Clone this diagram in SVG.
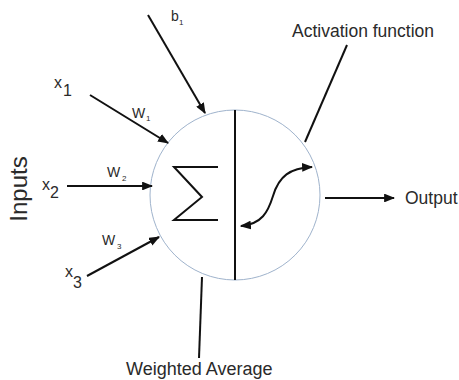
<svg xmlns="http://www.w3.org/2000/svg" width="459" height="380" viewBox="0 0 459 380">
<style>
.t{font-family:"Liberation Sans",Arial,sans-serif;fill:#2a2a2a}
.ln{stroke:#111;stroke-width:2;fill:none}
.ar{marker-end:url(#ah)}
</style>
<defs>
<marker id="ah" viewBox="0 0 10 8" refX="9" refY="4" markerWidth="5.5" markerHeight="4.4" orient="auto" markerUnits="strokeWidth">
<path d="M0,0 L10,4 L0,8 z" fill="#111"/>
</marker>
<marker id="as" viewBox="0 0 10 8" refX="9" refY="4" markerWidth="5.5" markerHeight="4.4" orient="auto-start-reverse" markerUnits="strokeWidth">
<path d="M0,0 L10,4 L0,8 z" fill="#111"/>
</marker>
</defs>
<g id="neuron">
<circle cx="235" cy="195" r="85" fill="#fff" stroke="#9fb3cc" stroke-width="1"/>
<line class="ln" x1="235" y1="110" x2="235" y2="280"/>
<path class="ln" d="M218,167 L174,167 L202,197 L174,220 L218,220"/>
<path class="ln" d="M241,226 C262,224 268,212 273,196 C279,176 290,168 312,167" marker-start="url(#as)" marker-end="url(#as)"/>
</g>
<g id="connectors">
<line class="ln ar" x1="148" y1="15" x2="205" y2="113"/>
<line class="ln ar" x1="90" y1="95" x2="168" y2="143"/>
<line class="ln ar" x1="67" y1="186" x2="152" y2="186"/>
<line class="ln ar" x1="87" y1="276" x2="159" y2="237"/>
<line class="ln ar" x1="325" y1="198" x2="394" y2="198"/>
<line class="ln" x1="347" y1="45" x2="305" y2="142"/>
<line class="ln" x1="202" y1="277" x2="199" y2="358"/>
</g>
<g id="labels">
<text class="t" x="171" y="21" font-size="14">b</text><text class="t" x="179" y="25" font-size="8">1</text>
<text class="t" x="54" y="88" font-size="16">x</text><text class="t" x="63" y="96" font-size="16">1</text>
<text class="t" x="132" y="118" font-size="14">W</text><text class="t" x="146" y="121" font-size="8">1</text>
<text class="t" x="42" y="190" font-size="16">x</text><text class="t" x="50" y="198" font-size="16">2</text>
<text class="t" x="107" y="177" font-size="14">W</text><text class="t" x="122" y="181" font-size="8">2</text>
<text class="t" x="102" y="245" font-size="14">W</text><text class="t" x="117" y="249" font-size="8">3</text>
<text class="t" x="65" y="277" font-size="16">x</text><text class="t" x="73" y="288" font-size="16">3</text>
<text class="t" font-size="24" text-anchor="middle" transform="translate(27,189) rotate(-90)">Inputs</text>
<text class="t" x="292" y="37" font-size="17.5">Activation function</text>
<text class="t" x="405" y="204" font-size="17.5">Output</text>
<text class="t" x="126" y="375" font-size="18">Weighted Average</text>
</g>
</svg>
